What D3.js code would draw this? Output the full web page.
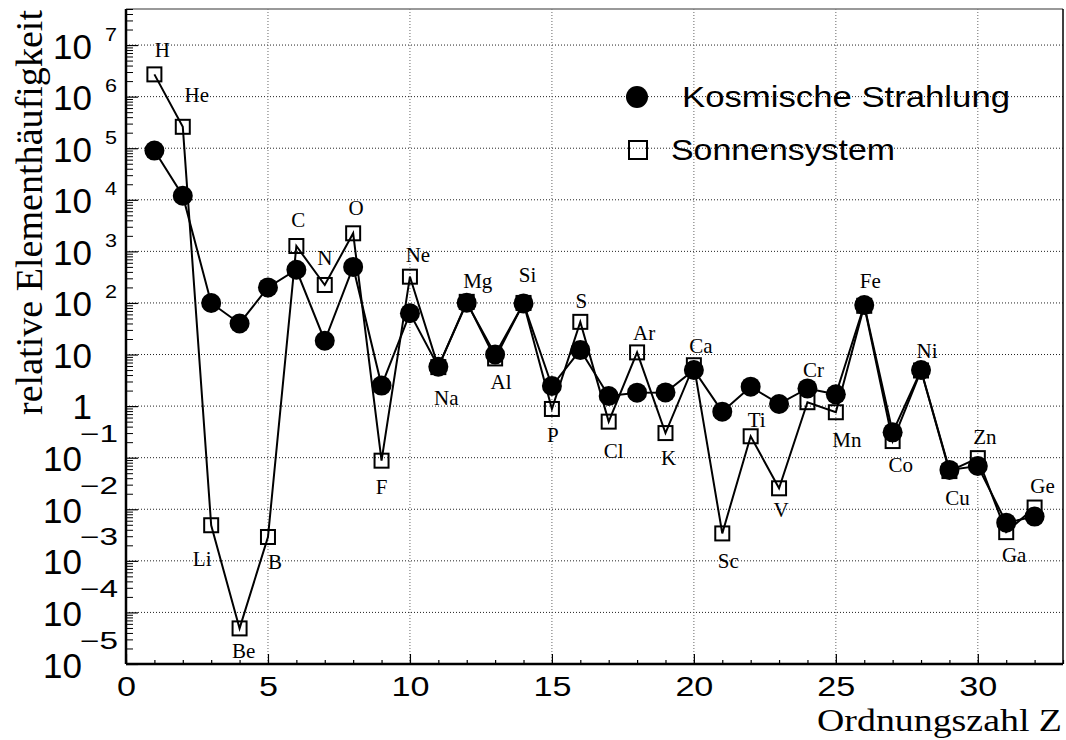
<!DOCTYPE html>
<html>
<head>
<meta charset="utf-8">
<script src="https://cdn.jsdelivr.net/npm/d3@7"></script>
<style>
  html, body { margin: 0; padding: 0; background: #fff; }
  svg { display: block; }
</style>
</head>
<body>
<svg id="chart" width="1066" height="740"></svg>
<script>
// Element symbols and atomic numbers Z
const elements = ["H","He","Li","Be","B","C","N","O","F","Ne","Na","Mg","Al","Si","P","S",
                  "Cl","Ar","K","Ca","Sc","Ti","V","Cr","Mn","Fe","Co","Ni","Cu","Zn","Ga","Ge"];
const atomicNumber = [1,2,3,4,5,6,7,8,9,10,11,12,13,14,15,16,
                      17,18,19,20,21,22,23,24,25,26,27,28,29,30,31,32];

// Relative abundance (Si = 100) in cosmic rays
const cosmicRays = [9.0e4, 1.2e4, 100, 40, 200, 440, 18.5, 500, 2.5, 63, 5.8, 101, 10, 98, 2.45, 12.2,
                    1.57, 1.82, 1.84, 5.0, 0.78, 2.38, 1.1, 2.2, 1.69, 91, 0.31, 5.0, 0.058, 0.069, 0.0055, 0.0072];
// Relative abundance (Si = 100) in the solar system
const solarSystem = [2.7e6, 2.6e5, 0.0049, 4.9e-5, 0.0029, 1270, 223, 2240, 0.0875, 323, 5.7, 105, 8.4, 100, 0.88, 43,
                     0.5, 11, 0.30, 6.2, 0.0034, 0.26, 0.0255, 1.19, 0.76, 88, 0.21, 4.9, 0.055, 0.098, 0.0036, 0.0108];

// Axis ticks
const xTickValues = [0, 5, 10, 15, 20, 25, 30];
const yDecades = [-5,-4,-3,-2,-1,0,1,2,3,4,5,6,7];

// Legend entries
const legendLabels = ["Kosmische Strahlung", "Sonnensystem"];

// Element label placement: which series the label sits next to, and a pixel nudge [dx, dy]
const labelAnchor = ["s","s","s","s","s","s","s","s","s","s","c","c","s","c","s","s",
                     "s","s","s","s","s","s","s","c","s","c","s","c","c","s","s","s"];
const labelShift = [[8,-17],[14,-25],[-9,41],[4,30],[7,32],[2,-19],[0,-20],[3,-18],[0,33],[8,-15],
                    [8,38],[11,-15],[6,31],[4,-21],[1,33],[1,-14],[5,36],[7,-12],[3,32],[7,-12],
                    [6,35],[6,-9],[2,29],[6,-11],[11,35],[6,-17],[8,31],[6,-12],[8,35],[7,-14],
                    [8,30],[8,-15]];

const plotLeft = 126, plotRight = 1063, plotTop = 9, plotBottom = 664;
const svg = d3.select("#chart");

const x = d3.scaleLinear().domain([0, 33]).range([plotLeft, plotRight]);
const y = d3.scaleLog().domain([1e-5, 5e7]).range([plotBottom, plotTop]);

const sans = "'Liberation Sans', Arial, Helvetica, sans-serif";
const serif = "'Liberation Serif', 'Times New Roman', Times, serif";

// Grid
const grid = svg.append("g").attr("stroke-dasharray", "1,2").attr("stroke-width", 1);
grid.selectAll("line.h").data(yDecades.filter(e => e > -5)).join("line")
  .attr("class", "h")
  .attr("x1", plotLeft).attr("x2", plotRight)
  .attr("y1", e => y(Math.pow(10, e))).attr("y2", e => y(Math.pow(10, e)))
  .attr("stroke", "#222");
grid.selectAll("line.v").data(xTickValues.filter(v => v > 0)).join("line")
  .attr("class", "v")
  .attr("x1", v => x(v)).attr("x2", v => x(v))
  .attr("y1", plotTop).attr("y2", plotBottom)
  .attr("stroke", "#666");

// Frame
svg.append("line").attr("x1", plotLeft).attr("x2", plotRight).attr("y1", plotTop).attr("y2", plotTop)
  .attr("stroke", "#777").attr("stroke-width", 1.5);
svg.append("line").attr("x1", plotRight).attr("x2", plotRight).attr("y1", plotTop).attr("y2", plotBottom)
  .attr("stroke", "#000").attr("stroke-width", 1.5);

// X axis with minor ticks every unit
const xMinor = d3.axisBottom(x).tickValues(d3.range(0, 34, 1)).tickSize(-4).tickFormat("");
svg.append("g").attr("transform", `translate(0,${plotBottom})`).call(xMinor)
  .call(g => g.select(".domain").remove())
  .call(g => g.selectAll(".tick line").attr("stroke", "#000").attr("stroke-width", 1.2));
const xMajor = d3.axisBottom(x).tickValues(xTickValues).tickSize(-10).tickPadding(0).tickFormat(d3.format("d"));
const gx = svg.append("g").attr("transform", `translate(0,${plotBottom})`).call(xMajor);
gx.select(".domain").attr("stroke", "#000").attr("stroke-width", 2.5).attr("d", `M${plotLeft},0H${plotRight}`);
gx.selectAll(".tick line").attr("stroke", "#000").attr("stroke-width", 1.2);
gx.selectAll(".tick text")
  .attr("y", 32).attr("dy", 0)
  .attr("font-family", sans).attr("font-size", 28).attr("fill", "#000")
  .attr("textLength", d => String(d).length * 19).attr("lengthAdjust", "spacingAndGlyphs");

// Y axis: decade ticks and 2..9 minor ticks
const yMinorVals = [];
for (let e = -5; e <= 7; e++) for (let m = 2; m <= 9; m++) {
  const v = m * Math.pow(10, e);
  if (v <= 5e7) yMinorVals.push(v);
}
const yMinor = d3.axisLeft(y).tickValues(yMinorVals).tickSize(-7).tickFormat("");
svg.append("g").attr("transform", `translate(${plotLeft},0)`).call(yMinor)
  .call(g => g.select(".domain").remove())
  .call(g => g.selectAll(".tick line").attr("stroke", "#000").attr("stroke-width", 1));
const yMajor = d3.axisLeft(y).tickValues(yDecades.map(e => Math.pow(10, e))).tickSize(-12).tickFormat("");
const gy = svg.append("g").attr("transform", `translate(${plotLeft},0)`).call(yMajor);
gy.select(".domain").attr("stroke", "#000").attr("stroke-width", 2.5).attr("d", `M0,${plotTop}V${plotBottom}`);
gy.selectAll(".tick line").attr("stroke", "#000").attr("stroke-width", 1.2);

// Y tick labels: 1, 10, and 10^n written with a raised exponent
const yl = svg.append("g").attr("font-family", sans).attr("fill", "#000");
yDecades.forEach(e => {
  const py = y(Math.pow(10, e));
  if (e === 0 || e === 1) {
    yl.append("text").attr("x", 92).attr("y", py + 13).attr("text-anchor", "end")
      .attr("font-size", 35).text(e === 0 ? "1" : "10");
  } else if (e > 1) {
    yl.append("text").attr("x", 92).attr("y", py + 13.5).attr("text-anchor", "end")
      .attr("font-size", 35).text("10");
    yl.append("text").attr("x", 105).attr("y", py - 4.5)
      .attr("font-size", 18).attr("textLength", 12).attr("lengthAdjust", "spacingAndGlyphs")
      .text(String(e));
  } else {
    yl.append("text").attr("x", 82).attr("y", py + 13.5).attr("text-anchor", "end")
      .attr("font-size", 35).text("10");
    yl.append("text").attr("x", 80).attr("y", py - 15.5)
      .attr("font-size", 23).attr("textLength", 38).attr("lengthAdjust", "spacingAndGlyphs")
      .text("\u2212" + String(-e));
  }
});

// Axis titles
svg.append("text")
  .attr("transform", "translate(42,10) rotate(-90)")
  .attr("text-anchor", "end")
  .attr("font-family", serif).attr("font-size", 38).attr("fill", "#000")
  .attr("textLength", 405).attr("lengthAdjust", "spacingAndGlyphs")
  .text("relative Elementhäufigkeit");
svg.append("text")
  .attr("x", 1062).attr("y", 731).attr("text-anchor", "end")
  .attr("font-family", serif).attr("font-size", 31).attr("fill", "#000")
  .attr("textLength", 245).attr("lengthAdjust", "spacingAndGlyphs")
  .text("Ordnungszahl Z");

// Series
const line = d3.line().x(d => x(d.z)).y(d => y(d.v));
const solarPts = atomicNumber.map((z, i) => ({ z, v: solarSystem[i] }));
const cosmicPts = atomicNumber.map((z, i) => ({ z, v: cosmicRays[i] }));

svg.append("path").datum(solarPts).attr("d", line)
  .attr("fill", "none").attr("stroke", "#000").attr("stroke-width", 2);
const sq = 14;
svg.append("g").selectAll("rect").data(solarPts).join("rect")
  .attr("x", d => x(d.z) - sq / 2).attr("y", d => y(d.v) - sq / 2)
  .attr("width", sq).attr("height", sq)
  .attr("fill", "none").attr("stroke", "#000").attr("stroke-width", 2);

svg.append("path").datum(cosmicPts).attr("d", line)
  .attr("fill", "none").attr("stroke", "#000").attr("stroke-width", 2);
svg.append("g").selectAll("circle").data(cosmicPts).join("circle")
  .attr("cx", d => x(d.z)).attr("cy", d => y(d.v)).attr("r", 10)
  .attr("fill", "#000");

// Element labels
svg.append("g").selectAll("text").data(elements).join("text")
  .attr("x", (s, i) => x(atomicNumber[i]) + labelShift[i][0])
  .attr("y", (s, i) => y(labelAnchor[i] === "s" ? solarSystem[i] : cosmicRays[i]) + labelShift[i][1])
  .attr("text-anchor", "middle")
  .attr("font-family", serif).attr("font-size", 21).attr("fill", "#000")
  .text(s => s);

// Legend
const lg = svg.append("g");
lg.append("circle").attr("cx", 637).attr("cy", 97).attr("r", 11).attr("fill", "#000");
lg.append("text").attr("x", 682).attr("y", 107)
  .attr("font-family", sans).attr("font-size", 30).attr("fill", "#000")
  .attr("textLength", 328).attr("lengthAdjust", "spacingAndGlyphs")
  .text(legendLabels[0]);
lg.append("rect").attr("x", 629).attr("y", 141).attr("width", 18).attr("height", 18)
  .attr("fill", "none").attr("stroke", "#000").attr("stroke-width", 2);
lg.append("text").attr("x", 671).attr("y", 160)
  .attr("font-family", sans).attr("font-size", 30).attr("fill", "#000")
  .attr("textLength", 224).attr("lengthAdjust", "spacingAndGlyphs")
  .text(legendLabels[1]);
</script>
</body>
</html>
